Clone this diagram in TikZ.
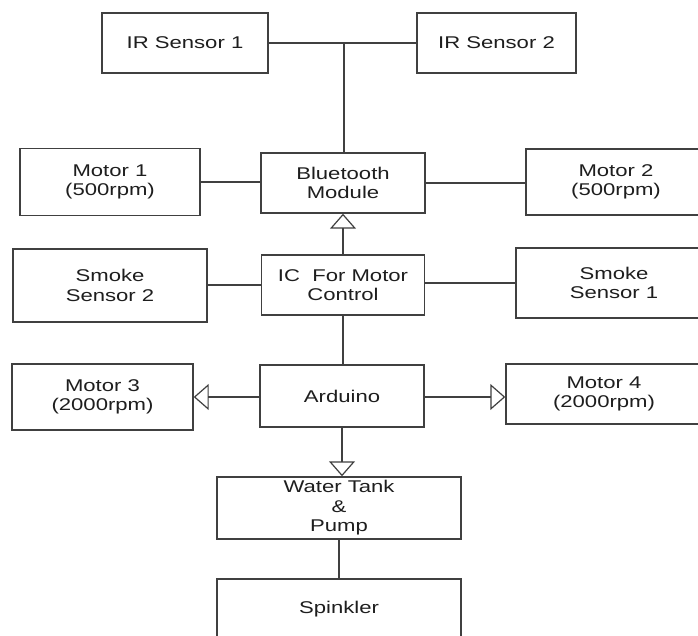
\documentclass[tikz,border=0pt]{standalone}
\usepackage{fontspec}
\newfontfamily\lab{Liberation Sans}[FakeStretch=1.3]
\usetikzlibrary{arrows.meta}
\definecolor{linec}{HTML}{404040}
\definecolor{textc}{HTML}{1E1E1E}
\tikzset{
  blk/.style={draw=linec, line width=1.4pt, rectangle, inner sep=0pt, align=center,
    text=textc, font=\lab\fontsize{17}{19.5}\selectfont},
  conn/.style={draw=linec, line width=1.4pt},
  tri/.style={-{Triangle[open, length=15pt, width=26pt, line width=1.2pt]}}
}
\begin{document}
\begin{tikzpicture}[x=1pt,y=-1pt]
\useasboundingbox (0,0) rectangle (698,636);
\clip (0,0) rectangle (698,636);
\fill[white] (0,0) rectangle (698,636);
\node[blk, minimum width=166pt, minimum height=60pt] (ir1) at (185,43) {IR Sensor 1};
\node[blk, minimum width=159pt, minimum height=60pt] (ir2) at (496.5,43) {IR Sensor 2};
\node[blk, minimum width=180pt, minimum height=67pt] (m1) at (110,182) {Motor 1\\(500rpm)};
\node[blk, minimum width=164pt, minimum height=60pt] (bt) at (343,183) {Bluetooth\\Module};
\node[blk, minimum width=180pt, minimum height=66pt] (m2) at (616,182) {Motor 2\\(500rpm)};
\node[blk, minimum width=194pt, minimum height=73pt] (sm2) at (110,285.5) {Smoke\\Sensor 2};
\node[blk, minimum width=163pt, minimum height=60pt] (ic) at (343,285) {IC\ \ For Motor\\Control};
\node[blk, minimum width=196pt, minimum height=70pt] (sm1) at (614,283) {Smoke\\Sensor 1};
\node[blk, minimum width=181pt, minimum height=66pt] (m3) at (102.5,397) {Motor 3\\(2000rpm)};
\node[blk, minimum width=164pt, minimum height=62pt] (ard) at (342,396) {Arduino};
\node[blk, minimum width=196pt, minimum height=60pt] (m4) at (604,394) {Motor 4\\(2000rpm)};
\node[blk, minimum width=244pt, minimum height=62pt] (tank) at (339,508) {Water Tank\\\&\\Pump};
\node[blk, minimum width=244pt, minimum height=60pt] (spk) at (339,609) {Spinkler};

\coordinate (jn) at (344,43);
\draw[conn] (ir1.east) -- (ir2.west);
\draw[conn] (jn) -- (jn |- bt.north);
\draw[conn] (m1.east) -- (m1.east -| bt.west);
\draw[conn] (bt.east) -- (bt.east -| m2.west);
\draw[conn, tri] (ic.north) -- (bt.south);
\draw[conn] (sm2.east |- ic.west) -- (ic.west);
\draw[conn] (ic.east |- sm1.west) -- (sm1.west);
\draw[conn] (ic.south) -- (ic.south |- ard.north);
\draw[conn, tri] (ard.west |- m3.east) -- (m3.east);
\draw[conn, tri] (ard.east |- m3.east) -- (m3.east -| m4.west);
\draw[conn, tri] (ard.south) -- (ard.south |- tank.north);
\draw[conn] (tank.south) -- (spk.north);
\end{tikzpicture}
\end{document}
